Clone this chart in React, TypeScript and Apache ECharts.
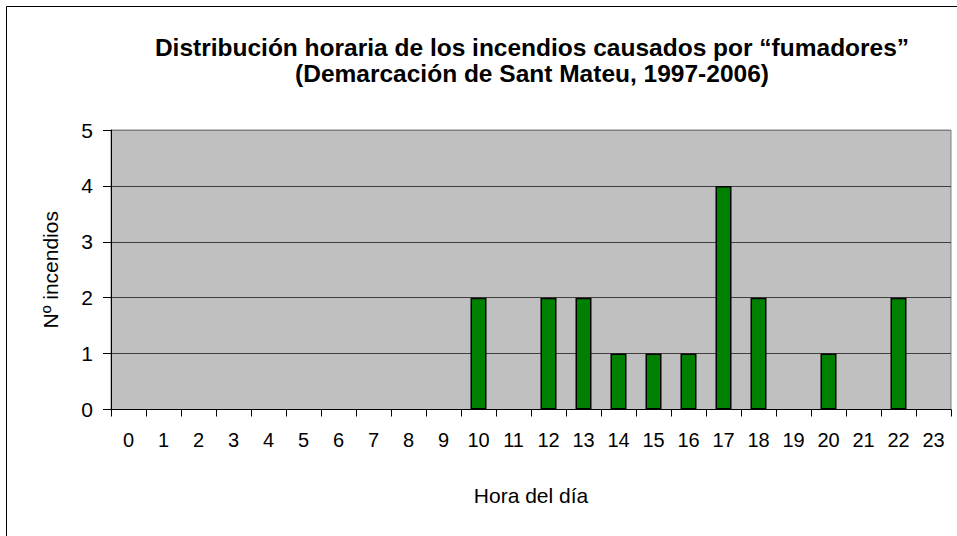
import React, { useEffect, useRef } from "react";
import * as echarts from "echarts";

const hours = ["0","1","2","3","4","5","6","7","8","9","10","11","12","13","14","15","16","17","18","19","20","21","22","23"];
const fires = [0,0,0,0,0,0,0,0,0,0,2,0,2,2,1,1,1,4,2,0,1,0,2,0];
const titleLines = ["Distribución horaria de los incendios causados por “fumadores”", "(Demarcación de Sant Mateu, 1997-2006)"];
const xName = "Hora del día";
const yName = "Nº incendios";

const FONT = "'Liberation Sans Narrow', 'Arial Narrow', 'Liberation Sans', Arial, sans-serif";

export default function App() {
  const ref = useRef<HTMLDivElement>(null);
  useEffect(() => {
    if (!ref.current) return;
    const chart = echarts.init(ref.current, null, { renderer: "svg" });
    chart.setOption({
      animation: false,
      backgroundColor: "#ffffff",
      textStyle: { fontFamily: FONT },
      title: {
        text: titleLines.join("\n"),
        left: 527,
        top: 29,
        textAlign: "center",
        textStyle: { fontFamily: FONT, fontWeight: "bold", fontSize: 24.5, lineHeight: 26, color: "#000" },
      },
      graphic: [
        {
          type: "rect",
          shape: { x: 6.5, y: 6.5, width: 1000, height: 1000 },
          style: { fill: "none", stroke: "#000", lineWidth: 1 },
          silent: true,
          z: 100,
        },
      ],
      grid: {
        left: 111,
        right: 6,
        top: 130,
        bottom: 126.5,
        show: true,
        backgroundColor: "#C0C0C0",
        borderColor: "#808080",
        borderWidth: 1,
      },
      xAxis: {
        type: "category",
        data: hours,
        boundaryGap: true,
        name: xName,
        nameLocation: "middle",
        nameGap: 75,
        nameTextStyle: { fontFamily: FONT, fontSize: 21, color: "#000" },
        axisLine: { show: true, lineStyle: { color: "#000", width: 1 } },
        axisTick: { show: true, length: 7, inside: false, alignWithLabel: false, lineStyle: { color: "#000" } },
        axisLabel: { margin: 20, fontFamily: FONT, fontSize: 20, color: "#000", interval: 0 },
        splitLine: { show: false },
      },
      yAxis: {
        type: "value",
        min: 0,
        max: 5,
        interval: 1,
        name: yName,
        nameLocation: "middle",
        nameGap: 50,
        nameRotate: 90,
        nameTextStyle: { fontFamily: FONT, fontSize: 21, color: "#000" },
        axisLine: { show: true, lineStyle: { color: "#000", width: 1 } },
        axisTick: { show: true, length: 8, lineStyle: { color: "#000" } },
        axisLabel: { margin: 18, fontFamily: FONT, fontSize: 21, color: "#000" },
        splitLine: {
          show: true,
          lineStyle: { color: ["#404040", "#404040", "#404040", "#404040", "#404040", "#808080"], width: 1 },
        },
      },
      series: [
        {
          type: "bar",
          data: fires.map((v) => (v === 0 ? "-" : v)),
          barWidth: 16,
          itemStyle: { color: "#008000", borderColor: "#000", borderWidth: 1.5 },
        },
      ],
    });
    return () => chart.dispose();
  }, []);
  return <div ref={ref} style={{ position: "absolute", left: 0, top: 0, width: 957, height: 536 }} />;
}
